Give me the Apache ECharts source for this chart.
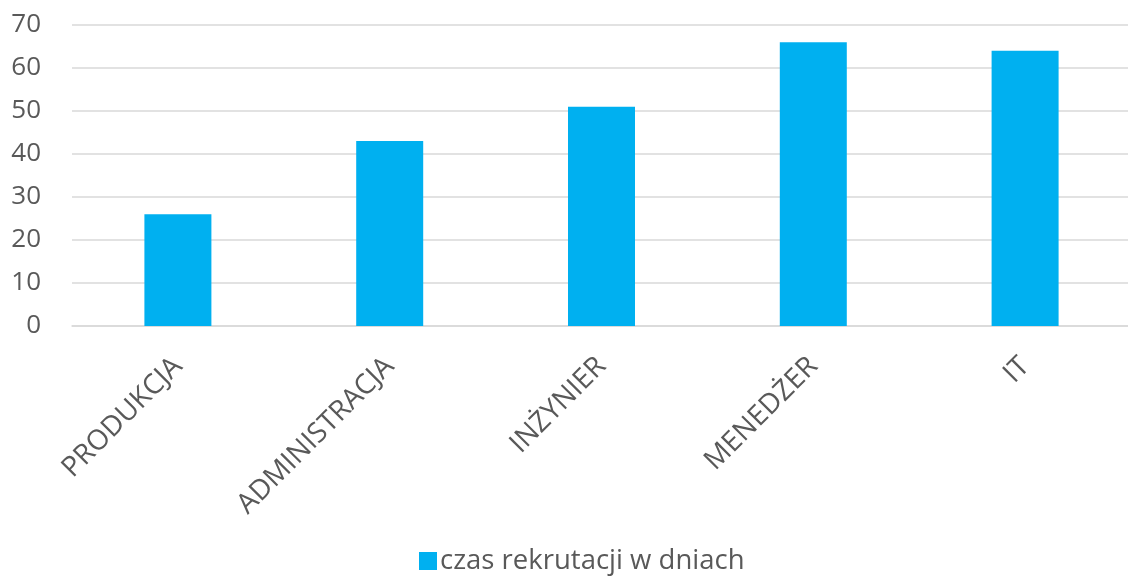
<!DOCTYPE html>
<html>
<head>
<meta charset="utf-8">
<script src="https://cdn.jsdelivr.net/npm/echarts@6/dist/echarts.min.js"></script>
<style>
  html, body { margin: 0; padding: 0; background: #fff; }
  #chart { width: 1128px; height: 582px; }
</style>
</head>
<body>
<div id="chart"></div>
<script>
// Average recruitment time per job category (days)
const categories = ['PRODUKCJA', 'ADMINISTRACJA', 'INŻYNIER', 'MENEDŻER', 'IT'];
const recruitmentDays = [26, 43, 51, 66, 64];
const seriesName = 'czas rekrutacji w dniach';

const textColor = '#595959';
const gridColor = '#d9d9d9';
const fontFamily = '"Open Sans", "Liberation Sans", sans-serif';

const chart = echarts.init(document.getElementById('chart'), null, { renderer: 'canvas' });
chart.setOption({
  animation: false,
  grid: { left: 72, right: -3, top: 25, bottom: 256, containLabel: false, outerBoundsMode: 'none' },
  legend: {
    data: [seriesName],
    left: 414,
    bottom: 2,
    icon: 'rect',
    itemWidth: 18,
    itemHeight: 18,
    itemGap: 6,
    textStyle: { color: textColor, fontSize: 27.5, fontFamily: fontFamily, padding: [0, 0, 0, -2] }
  },
  xAxis: {
    type: 'category',
    data: categories,
    axisLine: { show: true, lineStyle: { color: gridColor, width: 1.5 } },
    axisTick: { show: false },
    axisLabel: {
      interval: 0,
      rotate: 45,
      margin: 36,
      color: textColor,
      fontSize: 28,
      fontFamily: fontFamily
    }
  },
  yAxis: {
    type: 'value',
    min: 0,
    max: 70,
    interval: 10,
    axisLine: { show: false },
    axisTick: { show: false },
    splitLine: { lineStyle: { color: gridColor, width: 1.5 } },
    axisLabel: { margin: 31, color: textColor, fontSize: 26, fontFamily: fontFamily }
  },
  series: [{
    name: seriesName,
    type: 'bar',
    data: recruitmentDays,
    barWidth: 67,
    itemStyle: { color: '#00B0F0' }
  }]
});
</script>
</body>
</html>
